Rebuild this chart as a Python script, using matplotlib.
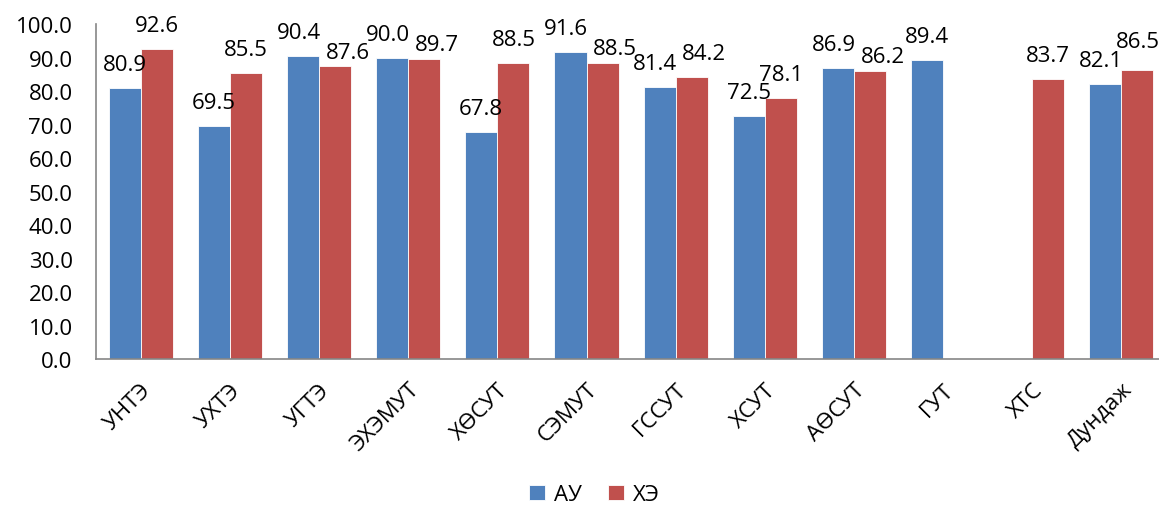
import numpy as np
import matplotlib
matplotlib.use("Agg")
import matplotlib.pyplot as plt
from matplotlib.ticker import FormatStrFormatter

plt.rcParams['font.family'] = ['Open Sans', 'DejaVu Sans']

categories = ["УНТЭ", "УХТЭ", "УГТЭ", "ЭХЭМУТ", "ХӨСУТ", "СЭМУТ",
              "ГССУТ", "ХСУТ", "АӨСУТ", "ГУТ", "ХТС", "Дундаж"]
au_values = [80.9, 69.5, 90.4, 90.0, 67.8, 91.6, 81.4, 72.5, 86.9, 89.4, np.nan, 82.1]
he_values = [92.6, 85.5, 87.6, 89.7, 88.5, 88.5, 84.2, 78.1, 86.2, np.nan, 83.7, 86.5]
series_names = ["АУ", "ХЭ"]
colors = ["#4F81BD", "#C0504D"]

fig = plt.figure(figsize=(11.59, 5.06), dpi=100)
ax = fig.add_axes([0.083, 0.288, 0.923, 0.662])

x = np.arange(len(categories))
w = 0.36
fs = 16
last = len(categories) - 1

# px per data unit on the y axis (used to detect label collisions)
px_per_unit = 0.662 * 506 / 100

for values, other, offset, color, name, side in zip(
        [au_values, he_values], [he_values, au_values], [-w / 2, w / 2],
        colors, series_names, [-1, 1]):
    ax.bar(x + offset, values, width=w, color=color, label=name,
           edgecolor="white", linewidth=0.6)
    for i, (xi, v, o) in enumerate(zip(x + offset, values, other)):
        if np.isnan(v):
            continue
        dx, dy = 0, 13
        # push neighbouring labels apart when they sit at nearly the same height
        if not np.isnan(o) and abs(v - o) * px_per_unit < 17:
            if side < 0:
                dx = -3
            elif i == last:
                # no room on the right edge: lift the label instead
                dy = 16
            else:
                dx = 9
                if v < o:
                    dy = 6
        ax.annotate(f"{v:.1f}", xy=(xi, v), xytext=(dx, dy),
                    textcoords="offset points", ha="center", va="baseline",
                    fontsize=fs, color="black", annotation_clip=False)

ax.set_ylim(0, 100)
ax.set_yticks(np.arange(0, 101, 10))
ax.yaxis.set_major_formatter(FormatStrFormatter("%.1f"))
ax.set_xlim(-0.5, len(categories) - 0.5)
ax.set_xticks(x)
ax.set_xticklabels(categories, rotation=45, ha="right", rotation_mode="anchor")
ax.tick_params(axis="y", length=0, labelsize=fs, pad=17)
ax.tick_params(axis="x", length=0, labelsize=fs, pad=14)

for s in ["top", "right"]:
    ax.spines[s].set_visible(False)
for s in ["left", "bottom"]:
    ax.spines[s].set_color("#868686")
    ax.spines[s].set_linewidth(1.2)

fig.legend(loc="center", bbox_to_anchor=(0.513, 0.02), ncol=2, frameon=False,
           fontsize=fs, handlelength=0.7, handleheight=0.7, handletextpad=0.4,
           columnspacing=1.2)

fig.savefig("out.png", dpi=100)
